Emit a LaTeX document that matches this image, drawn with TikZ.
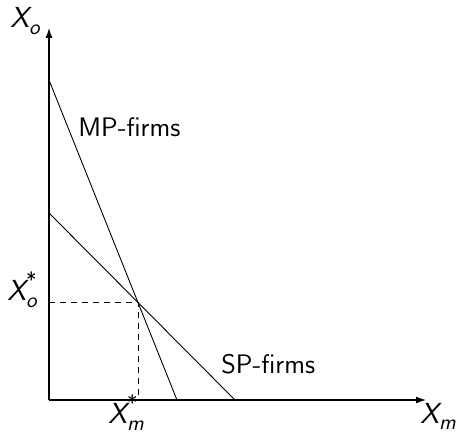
\documentclass[tikz,border=0pt]{standalone}
\usepackage{fontspec}
\usetikzlibrary{arrows.meta,intersections}
\newcommand{\subsz}{\fontsize{10.5}{11}\selectfont}
\newcommand{\Xsub}[1]{{\slshape X}\raisebox{-0.5ex}{\subsz\slshape #1}}
\newcommand{\Xsubstar}[1]{{\slshape X}\makebox[0pt][l]{\raisebox{1.0ex}{\subsz *}}\raisebox{-0.55ex}{\subsz\slshape #1}}
\begin{document}
\begin{tikzpicture}[x=0.5pt,y=-0.5pt,
  axis/.style={line width=0.6pt,-{Latex[length=5pt,width=3.5pt]}},
  curve/.style={line width=0.45pt},
  guide/.style={line width=0.45pt,dash pattern=on 3pt off 2.5pt},
  lbl/.style={font=\fontsize{13.4}{15}\selectfont\sffamily,inner sep=0pt},
  xlbl/.style={font=\fontsize{14.5}{16}\selectfont\sffamily,inner sep=0pt,anchor=base west}]
\useasboundingbox (0,0) rectangle (459,433);
\coordinate (O) at (49,400);
\coordinate (ytop) at (49,28);
\coordinate (xend) at (426,400);
\coordinate (mpA) at (49,80);
\coordinate (mpB) at (177,400);
\coordinate (spA) at (49,213);
\coordinate (spB) at (235,400);
\draw[curve,name path=mp] (mpA) -- (mpB);
\draw[curve,name path=sp] (spA) -- (spB);
\path[name intersections={of=mp and sp,by=E}];
\coordinate (Ey) at (O |- E);
\coordinate (Ex) at (E |- O);
\draw[guide] (Ey) -- (E) -- (Ex);
\draw[axis] (O) -- (ytop);
\draw[axis] (O) -- (xend);
\node[xlbl] (xo) at (10,28) {\Xsub{o}};
\node[xlbl] (xm) at (420,423) {\Xsub{m}};
\node[xlbl] (xos) at (7,300) {\Xsubstar{o}};
\node[xlbl] (xms) at (108,423) {\Xsubstar{m}};
\node[lbl,anchor=base west] (mpl) at (78,136) {MP-firms};
\node[lbl,anchor=base west] (spl) at (221,373) {SP-firms};
\end{tikzpicture}
\end{document}
